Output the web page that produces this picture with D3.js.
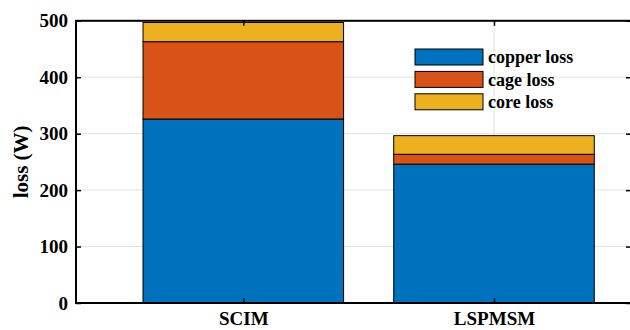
<!DOCTYPE html>
<html>
<head>
<meta charset="utf-8">
<script src="https://cdn.jsdelivr.net/npm/d3@7"></script>
<style>
  html, body { margin: 0; padding: 0; background: #fff; }
  svg { display: block; font-family: "Liberation Serif", "Times New Roman", serif; font-weight: bold; }
</style>
</head>
<body>
<svg id="chart" width="630" height="330"></svg>
<script>
// Loss breakdown per machine type (W)
const categories = ["SCIM", "LSPMSM"];
const copperLoss = [326, 246];
const cageLoss = [137, 17.5];
const coreLoss = [34, 33];
const seriesNames = ["copper loss", "cage loss", "core loss"];
const yTicks = [0, 100, 200, 300, 400, 500];
const colors = ["#0072BD", "#D95319", "#EDB120"];

const svg = d3.select("#chart");
const plot = { left: 76, right: 631, top: 20.8, bottom: 303 };

// category centres; bars take 80% of the spacing
const x = d3.scalePoint().domain(categories).range([243.3, 494]);
const step = x(categories[1]) - x(categories[0]);
const barW = step * 0.8;

const y = d3.scaleLinear().domain([0, 500]).range([plot.bottom, plot.top]);

// rows for the stack
const rows = categories.map((c, i) => ({
  cat: c,
  "copper loss": copperLoss[i],
  "cage loss": cageLoss[i],
  "core loss": coreLoss[i]
}));
const stacked = d3.stack().keys(seriesNames)(rows);

// grid lines
const grid = svg.append("g").attr("stroke", "#e3e3e3").attr("stroke-width", 1);
grid.selectAll("line.h").data(yTicks.filter(t => t > 0 && t < 500)).join("line")
  .attr("class", "h")
  .attr("x1", plot.left).attr("x2", plot.right)
  .attr("y1", d => y(d)).attr("y2", d => y(d));
grid.selectAll("line.v").data(categories).join("line")
  .attr("class", "v")
  .attr("x1", d => x(d)).attr("x2", d => x(d))
  .attr("y1", plot.top).attr("y2", plot.bottom);

// stacked bars
svg.append("g").selectAll("g").data(stacked).join("g")
  .attr("fill", (d, i) => colors[i])
  .selectAll("rect").data(d => d).join("rect")
  .attr("x", d => x(d.data.cat) - barW / 2)
  .attr("width", barW)
  .attr("y", d => y(d[1]))
  .attr("height", d => y(d[0]) - y(d[1]))
  .attr("stroke", "#000")
  .attr("stroke-width", 1);

// axes
const tickLen = 5;
const yAxis = d3.axisLeft(y).tickValues(yTicks).tickSize(-tickLen).tickPadding(8);
const yAxisR = d3.axisRight(y).tickValues(yTicks).tickSize(-tickLen).tickFormat("");
const xAxis = d3.axisBottom(x).tickSize(-tickLen).tickPadding(9);
const xAxisT = d3.axisTop(x).tickSize(-tickLen).tickFormat("");

function styleAxis(g) {
  g.select(".domain").remove();
  g.selectAll(".tick line").attr("stroke", "#000").attr("stroke-width", 1.5);
  g.selectAll(".tick text")
    .attr("fill", "#000")
    .style("font-family", '"Liberation Serif", "Times New Roman", serif')
    .style("font-weight", "bold")
    .style("font-size", "19px");
}

svg.append("g").attr("transform", `translate(${plot.left},0)`).call(yAxis).call(styleAxis);
svg.append("g").attr("transform", `translate(${plot.right},0)`).call(yAxisR).call(styleAxis);
svg.append("g").attr("transform", `translate(0,${plot.bottom})`).call(xAxis).call(styleAxis);
svg.append("g").attr("transform", `translate(0,${plot.top})`).call(xAxisT).call(styleAxis);

// axes box
svg.append("rect")
  .attr("x", plot.left).attr("y", plot.top)
  .attr("width", plot.right - plot.left).attr("height", plot.bottom - plot.top)
  .attr("fill", "none").attr("stroke", "#000").attr("stroke-width", 2);

// y label
svg.append("text")
  .attr("transform", `translate(28,${(plot.top + plot.bottom) / 2}) rotate(-90)`)
  .attr("text-anchor", "middle")
  .style("font-size", "21px")
  .text("loss (W)");

// legend
const leg = svg.append("g").attr("transform", "translate(415,49)");
const legRow = leg.selectAll("g").data(seriesNames).join("g")
  .attr("transform", (d, i) => `translate(0,${i * 22.4})`);
legRow.append("rect")
  .attr("width", 68).attr("height", 16)
  .attr("fill", (d, i) => colors[i])
  .attr("stroke", "#000").attr("stroke-width", 1);
legRow.append("text")
  .attr("x", 73).attr("y", 8).attr("dy", "0.35em")
  .style("font-size", "18px")
  .text(d => d);
</script>
</body>
</html>
